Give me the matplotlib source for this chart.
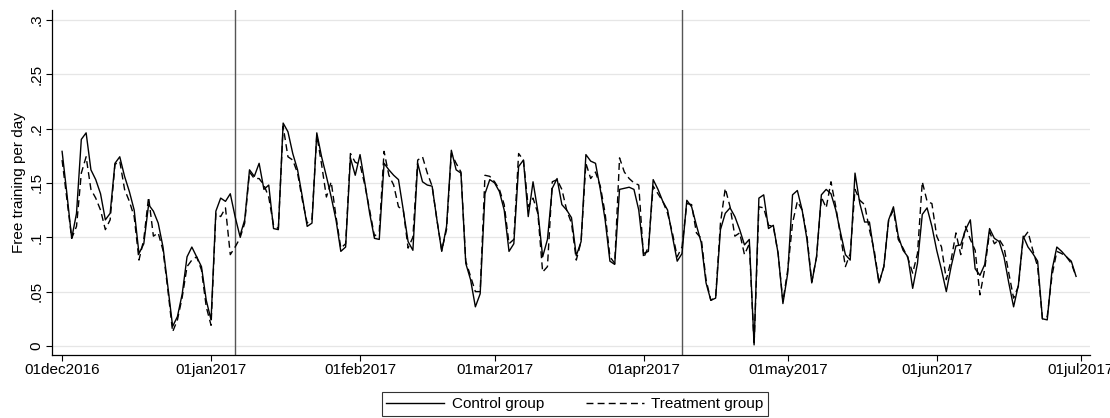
import numpy as np
import matplotlib
matplotlib.use("Agg")
import matplotlib.pyplot as plt

plt.rcParams['font.family'] = ['Liberation Sans', 'DejaVu Sans']

# daily values, 01dec2016 .. 30jun2017 (212 days)
control = [
    0.179, 0.140, 0.099, 0.122, 0.190, 0.196, 0.162, 0.153, 0.140, 0.116,
    0.122, 0.168, 0.174, 0.156, 0.142, 0.125, 0.085, 0.094, 0.130, 0.124,
    0.113, 0.091, 0.055, 0.018, 0.027, 0.048, 0.082, 0.091, 0.082, 0.073,
    0.042, 0.024, 0.124, 0.136, 0.133, 0.140, 0.119, 0.101, 0.116, 0.162,
    0.156, 0.168, 0.144, 0.148, 0.108, 0.107, 0.205, 0.197, 0.177, 0.162,
    0.137, 0.110, 0.113, 0.196, 0.174, 0.156, 0.137, 0.116, 0.087, 0.091,
    0.173, 0.157, 0.176, 0.150, 0.122, 0.099, 0.098, 0.168, 0.162, 0.157,
    0.153, 0.125, 0.096, 0.088, 0.168, 0.151, 0.148, 0.147, 0.116, 0.087,
    0.110, 0.180, 0.162, 0.159, 0.076, 0.061, 0.036, 0.048, 0.140, 0.153,
    0.150, 0.142, 0.125, 0.087, 0.094, 0.165, 0.171, 0.119, 0.151, 0.124,
    0.082, 0.098, 0.145, 0.154, 0.130, 0.125, 0.118, 0.083, 0.096, 0.176,
    0.170, 0.168, 0.144, 0.116, 0.078, 0.075, 0.144, 0.145, 0.146, 0.144,
    0.125, 0.085, 0.087, 0.153, 0.144, 0.133, 0.125, 0.101, 0.078, 0.085,
    0.134, 0.128, 0.111, 0.095, 0.058, 0.042, 0.044, 0.107, 0.122, 0.127,
    0.119, 0.107, 0.093, 0.098, 0.001, 0.136, 0.139, 0.108, 0.111, 0.085,
    0.039, 0.067, 0.139, 0.143, 0.125, 0.098, 0.058, 0.082, 0.139, 0.144,
    0.140, 0.125, 0.104, 0.084, 0.079, 0.159, 0.131, 0.114, 0.114, 0.085,
    0.058, 0.073, 0.116, 0.128, 0.101, 0.088, 0.082, 0.053, 0.076, 0.121,
    0.127, 0.110, 0.088, 0.070, 0.050, 0.073, 0.092, 0.093, 0.107, 0.116,
    0.071, 0.065, 0.075, 0.108, 0.099, 0.096, 0.082, 0.058, 0.036, 0.056,
    0.101, 0.091, 0.085, 0.078, 0.025, 0.024, 0.070, 0.091, 0.087, 0.082,
    0.078, 0.064,
]
treatment = [
    0.171, 0.135, 0.099, 0.110, 0.159, 0.174, 0.144, 0.136, 0.125, 0.107,
    0.116, 0.167, 0.170, 0.144, 0.133, 0.119, 0.079, 0.098, 0.137, 0.101,
    0.104, 0.088, 0.052, 0.013, 0.024, 0.045, 0.073, 0.079, 0.082, 0.070,
    0.036, 0.019, 0.122, 0.119, 0.127, 0.084, 0.091, 0.099, 0.113, 0.160,
    0.154, 0.154, 0.148, 0.137, 0.111, 0.108, 0.202, 0.174, 0.171, 0.159,
    0.134, 0.113, 0.117, 0.194, 0.167, 0.137, 0.151, 0.119, 0.090, 0.094,
    0.177, 0.169, 0.167, 0.148, 0.125, 0.101, 0.105, 0.179, 0.157, 0.148,
    0.128, 0.125, 0.090, 0.100, 0.171, 0.174, 0.159, 0.147, 0.116, 0.088,
    0.107, 0.177, 0.168, 0.160, 0.078, 0.064, 0.050, 0.050, 0.157, 0.156,
    0.151, 0.144, 0.130, 0.094, 0.098, 0.177, 0.171, 0.128, 0.136, 0.122,
    0.068, 0.073, 0.151, 0.153, 0.144, 0.125, 0.113, 0.079, 0.096, 0.168,
    0.154, 0.160, 0.147, 0.122, 0.082, 0.076, 0.173, 0.160, 0.154, 0.150,
    0.148, 0.081, 0.091, 0.147, 0.140, 0.133, 0.122, 0.104, 0.082, 0.091,
    0.131, 0.130, 0.104, 0.099, 0.061, 0.042, 0.045, 0.113, 0.145, 0.128,
    0.101, 0.104, 0.084, 0.094, 0.001, 0.128, 0.127, 0.111, 0.110, 0.085,
    0.041, 0.070, 0.113, 0.133, 0.125, 0.101, 0.059, 0.082, 0.137, 0.127,
    0.151, 0.128, 0.101, 0.073, 0.085, 0.144, 0.134, 0.130, 0.107, 0.088,
    0.058, 0.073, 0.116, 0.125, 0.098, 0.090, 0.081, 0.067, 0.085, 0.151,
    0.133, 0.131, 0.101, 0.091, 0.061, 0.079, 0.104, 0.084, 0.110, 0.098,
    0.088, 0.047, 0.071, 0.105, 0.094, 0.098, 0.091, 0.067, 0.044, 0.055,
    0.099, 0.105, 0.088, 0.073, 0.025, 0.027, 0.065, 0.087, 0.085, 0.082,
    0.076, 0.064,
]
x_tick_labels = ['01dec2016', '01jan2017', '01feb2017', '01mar2017',
                 '01apr2017', '01may2017', '01jun2017', '01jul2017']
x_tick_days = [0, 31, 62, 90, 121, 151, 182, 212]
y_ticks = [0, 0.05, 0.1, 0.15, 0.2, 0.25, 0.3]
y_tick_labels = ['0', '.05', '.1', '.15', '.2', '.25', '.3']
event_days = [36, 129]  # 06jan2017, 09apr2017

days = np.arange(len(control))
FS = 11.0

fig = plt.figure(figsize=(11.1, 4.18), dpi=100)
ax = fig.add_axes([52/1110, 63/418, (1090-52)/1110, (355-10)/418])

for yt in y_ticks:
    ax.axhline(yt, color='#e6e6e6', lw=0.9, zorder=0)
for d in event_days:
    ax.axvline(d, color='#555555', lw=1.0, zorder=1)

ax.plot(days, control, color='black', lw=1.0, label='Control group', zorder=3)
ax.plot(days, treatment, color='black', lw=1.0, linestyle=(0, (5, 3)),
        label='Treatment group', zorder=2)

ax.set_xlim(-2.1, 213.9)
ax.set_ylim(-0.0083, 0.309)
ax.set_xticks(x_tick_days)
ax.set_xticklabels(x_tick_labels, fontsize=FS)
ax.set_yticks(y_ticks)
ax.set_yticklabels(y_tick_labels, fontsize=FS, rotation=90, va='center')
ax.set_ylabel('Free training per day', fontsize=FS, labelpad=3)
ax.tick_params(axis='both', direction='out', length=4, width=0.8, color='black')
ax.tick_params(axis='x', pad=2)
ax.tick_params(axis='y', pad=2)
for s in ['top', 'right']:
    ax.spines[s].set_visible(False)
for s in ['left', 'bottom']:
    ax.spines[s].set_linewidth(0.9)

leg = fig.legend(loc='center', bbox_to_anchor=(575/1110, 1 - 404/418), ncol=2,
                 fontsize=FS, frameon=True, fancybox=False, edgecolor='black',
                 handlelength=3.8, columnspacing=2.7, borderpad=0.3,
                 borderaxespad=0, handletextpad=0.5)
leg.get_frame().set_linewidth(0.8)
for t in leg.get_texts():
    pass

fig.savefig('out.png', dpi=100)
